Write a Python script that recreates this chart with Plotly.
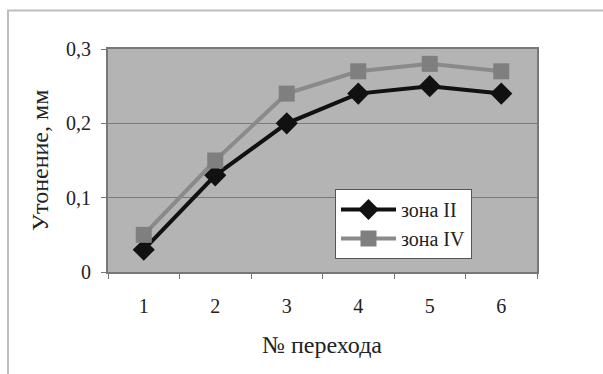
import plotly.graph_objects as go

# Passes (categories) and thinning values for two zones, mm
passes = ["1", "2", "3", "4", "5", "6"]
zone_ii = [0.03, 0.13, 0.20, 0.24, 0.25, 0.24]
zone_iv = [0.05, 0.15, 0.24, 0.27, 0.28, 0.27]
series_names = ["зона II", "зона IV"]
y_ticks = [0, 0.1, 0.2, 0.3]
y_ticktext = ["0", "0,1", "0,2", "0,3"]

W, H = 603, 374
L, R, T, B = 108, 66, 49, 102
pw, ph = W - L - R, H - T - B

def px_x(p):
    return (p - L) / pw

def px_y(p):
    return (H - B - p) / ph

FONT = "Times New Roman, Liberation Serif, DejaVu Serif, serif"

fig = go.Figure()
fig.add_trace(go.Scatter(
    x=passes, y=zone_ii, name=series_names[0], mode="lines+markers",
    line=dict(color="#111111", width=4),
    marker=dict(symbol="diamond", size=17, color="#111111"),
))
fig.add_trace(go.Scatter(
    x=passes, y=zone_iv, name=series_names[1], mode="lines+markers",
    line=dict(color="#8a8a8a", width=4),
    marker=dict(symbol="square", size=16, color="#7f7f7f"),
))

# Chart frame: only the left and top edges are visible
fig.add_shape(
    type="path", xref="paper", yref="paper",
    path=f"M {px_x(8)} {px_y(H + 10)} L {px_x(8)} {px_y(10.5)} L {px_x(W + 10)} {px_y(10.5)}",
    line=dict(color="#bdbdbd", width=2),
)

fig.add_annotation(
    text="Утонение, мм", textangle=-90, showarrow=False,
    xref="paper", yref="paper", x=px_x(40), y=px_y(161),
    xanchor="center", yanchor="middle",
    font=dict(family=FONT, size=24, color="#222222"),
)
fig.add_annotation(
    text="№ перехода", showarrow=False,
    xref="paper", yref="paper", x=px_x(322), y=px_y(345),
    xanchor="center", yanchor="middle",
    font=dict(family=FONT, size=24, color="#222222"),
)

fig.update_layout(
    width=W, height=H,
    margin=dict(l=L, r=R, t=T, b=B),
    paper_bgcolor="white",
    plot_bgcolor="#b4b4b4",
    font=dict(family=FONT, size=20, color="#222222"),
    showlegend=True,
    legend=dict(
        x=px_x(335), y=px_y(189), xanchor="left", yanchor="top",
        bgcolor="white", bordercolor="#555555", borderwidth=1,
        font=dict(family=FONT, size=20, color="#222222"),
        itemwidth=55, tracegroupgap=0,
    ),
)
fig.update_xaxes(
    type="category", tickson="boundaries", ticks="outside", ticklen=5,
    tickcolor="#777777", showgrid=False, showline=True, linecolor="#777777",
    linewidth=2, mirror=True, range=[-0.5, 5.5],
    ticklabelstandoff=15,
    tickfont=dict(family=FONT, size=20, color="#222222"),
)
fig.update_yaxes(
    range=[0, 0.3], tickvals=y_ticks, ticktext=y_ticktext,
    ticks="outside", ticklen=5, tickcolor="#777777",
    showgrid=True, gridcolor="#7a7a7a", gridwidth=1,
    showline=True, linecolor="#777777", linewidth=2, mirror=True,
    zeroline=False, ticklabelstandoff=6,
    tickfont=dict(family=FONT, size=20, color="#222222"),
)

fig.write_html("out.html")
